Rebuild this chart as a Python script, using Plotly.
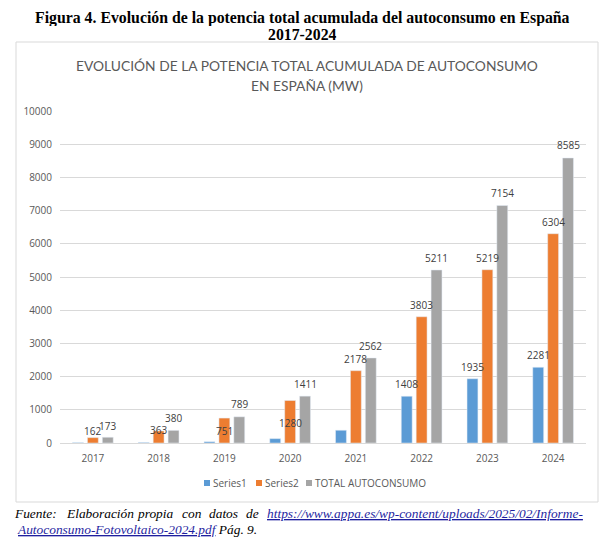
import plotly.graph_objects as go

# data
years = ["2017", "2018", "2019", "2020", "2021", "2022", "2023", "2024"]
series1 = [11, 17, 38, 131, 384, 1408, 1935, 2281]
series2 = [162, 363, 751, 1280, 2178, 3803, 5219, 6304]
total = [173, 380, 789, 1411, 2562, 5211, 7154, 8585]
series_names = ["Series1", "Series2", "TOTAL AUTOCONSUMO"]
show_label = [
    [False, False, False, False, False, True, True, True],
    [True] * 8,
    [True] * 8,
]
y_ticks = [0, 1000, 2000, 3000, 4000, 5000, 6000, 7000, 8000, 9000, 10000]

# label lift above the bar top (px); Excel moved a few of them by hand
label_lift = [
    [12] * 8,
    [7, 1, -13, -22, 12, 12, 12, 12],
    [11, 12, 13, 12, 12, 12, 12, 13],
]
colors = ["#5B9BD5", "#ED7D31", "#A5A5A5"]

# the page body keeps an 8px margin, so the figure is drawn 8px in
OFF = 8
W, H = 615 - OFF, 544 - OFF
# plot area in page pixels
PL, PR, PT, PB = 60, 586, 111, 443


def px(x):
    return (x - PL) / (PR - PL)


def py(y):
    return (PB - y) / (PB - PT)


label_font = dict(family="Open Sans", size=10, color="#404040")
axis_font = dict(family="Open Sans", size=10, color="#595959")

fig = go.Figure()

all_values = [series1, series2, total]
for i, (name, vals) in enumerate(zip(series_names, all_values)):
    fig.add_trace(go.Bar(
        x=years, y=vals, name=name,
        marker=dict(color=colors[i]),
        showlegend=False,
        hovertemplate="%{x}: %{y}<extra>" + name + "</extra>",
    ))
    # data labels (x given as category index)
    for j, v in enumerate(vals):
        if not show_label[i][j]:
            continue
        fig.add_annotation(
            x=j, y=v, xref="x", yref="y", text=str(v),
            showarrow=False, xanchor="center", yanchor="middle",
            xshift=(i - 1) * 15, yshift=label_lift[i][j], font=label_font,
        )

fig.update_layout(
    width=W, height=H,
    margin=dict(l=PL - OFF, r=615 - PR, t=PT - OFF, b=544 - PB, autoexpand=False),
    paper_bgcolor="white",
    plot_bgcolor="white",
    barmode="group",
    bargap=0.32,
    bargroupgap=0.27,
    showlegend=False,
    xaxis=dict(
        type="category", range=[-0.5, len(years) - 0.5],
        tickfont=axis_font, showgrid=False, automargin=False,
        showline=True, linecolor="#d9d9d9", ticks="", ticklabelstandoff=6,
    ),
    yaxis=dict(
        range=[0, 10000], tickvals=y_ticks, ticktext=[str(v) for v in y_ticks],
        tickfont=axis_font, automargin=False,
        showgrid=True, gridcolor="#d9d9d9", zeroline=False,
        ticks="", ticklabelstandoff=7,
    ),
)

# outer frame of the chart
fig.add_shape(type="rect", xref="paper", yref="paper",
              x0=px(16), x1=px(598), y0=py(502), y1=py(42),
              line=dict(color="#d9d9d9", width=1), layer="below")

# legend: small squares with names
legend_x = [204, 256, 306]
for i, name in enumerate(series_names):
    x0 = legend_x[i]
    fig.add_shape(type="rect", xref="paper", yref="paper",
                  x0=px(x0), x1=px(x0 + 6), y0=py(486), y1=py(480),
                  fillcolor=colors[i], line=dict(width=0))
    fig.add_annotation(xref="paper", yref="paper", x=px(x0 + 7), y=py(483),
                       xanchor="left", yanchor="middle", showarrow=False,
                       text=name, font=dict(family="Open Sans", size=10, color="#595959"))

# figure caption
cap_font = dict(family="Liberation Serif", size=15.8, color="black")
for line, yy in [("Figura 4. Evolución de la potencia total acumulada del autoconsumo en España", 17),
                 ("2017-2024", 34)]:
    fig.add_annotation(xref="paper", yref="paper", x=px(302), y=py(yy),
                       xanchor="center", yanchor="middle", showarrow=False,
                       height=17, borderpad=0,
                       text="<b>" + line + "</b>", font=cap_font)

# chart title
title_font = dict(family="Lato", size=13.8, color="#595959")
for line, yy in [("EVOLUCIÓN DE LA POTENCIA TOTAL ACUMULADA DE AUTOCONSUMO", 65),
                 ("EN ESPAÑA (MW)", 86)]:
    fig.add_annotation(xref="paper", yref="paper", x=px(307), y=py(yy),
                       xanchor="center", yanchor="middle", showarrow=False,
                       text=line, font=title_font)

# source note, justified first line
foot_font = dict(family="Liberation Serif", size=13.4, color="black")
link_font = dict(family="Liberation Serif", size=13.4, color="#1F1F9F")
words = [("Fuente:", 15), ("Elaboración", 67), ("propia", 138), ("con", 183),
         ("datos", 210), ("de", 247)]
for w, x0 in words:
    fig.add_annotation(xref="paper", yref="paper", x=px(x0 - 3), y=py(513),
                       xanchor="left", yanchor="middle", showarrow=False,
                       text="<i>" + w + "</i>", font=foot_font)
fig.add_annotation(
    xref="paper", yref="paper", x=px(585), y=py(513), xanchor="right", yanchor="middle",
    showarrow=False, font=link_font,
    text='<i><span style="text-decoration: underline">https://www.appa.es/wp-content/uploads/2025/02/Informe-</span></i>',
)
fig.add_annotation(
    xref="paper", yref="paper", x=px(15), y=py(529), xanchor="left", yanchor="middle",
    showarrow=False, font=foot_font,
    text='<i><span style="text-decoration: underline; fill: #1F1F9F">Autoconsumo-Fotovoltaico-2024.pdf</span> Pág. 9.</i>',
)

fig.write_html("out.html")
